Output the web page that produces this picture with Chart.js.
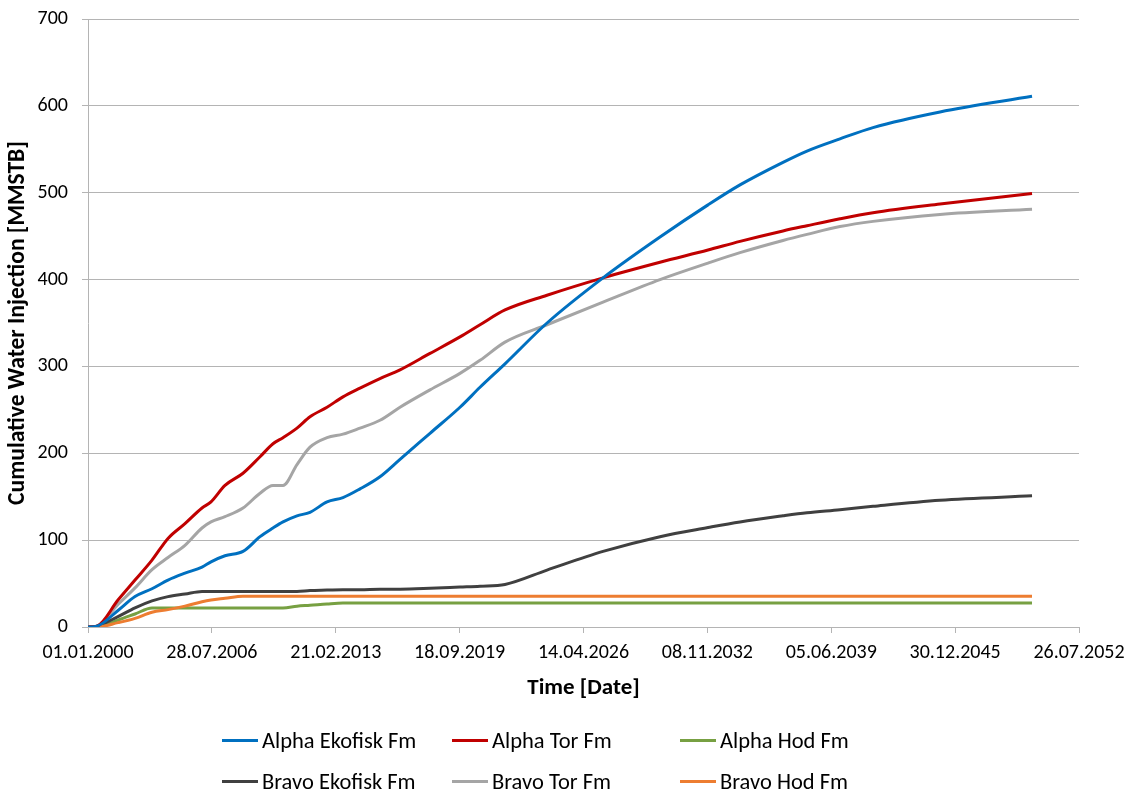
<!DOCTYPE html>
<html>
<head>
<meta charset="utf-8">
<title>Cumulative Water Injection</title>
<script src="https://cdn.jsdelivr.net/npm/chart.js@4.4.1/dist/chart.umd.min.js"></script>
<style>
  html, body { margin: 0; padding: 0; background: #fff; }
  #wrap { position: relative; width: 1134px; height: 794px; }
  #legend { position: absolute; left: 0; top: 0; width: 1134px; height: 794px; pointer-events: none;
            font-family: Carlito, Lato, sans-serif; font-size: 22.5px; color: #000; }
  .item { position: absolute; display: flex; align-items: center; white-space: nowrap; }
  .item span.swatch { display: inline-block; width: 36px; height: 3px; margin-right: 4px; }
</style>
</head>
<body>
<div id="wrap">
  <canvas id="chart" width="1134" height="794"></canvas>
  <div id="legend"></div>
</div>
<script>
// days after 01.01.2000
const days = [0, 174, 581, 911, 1240, 1550, 1879, 2209, 2383, 2654, 3003, 3333, 3584, 3778, 4049,
  4301, 4631, 4940, 5270, 5657, 6045, 6626, 7207, 7595, 8079, 8893, 9978, 11082, 12012, 12632,
  13465, 13930, 14569, 15209, 16507, 18290];

const alphaEkofisk = [0, 1, 19, 35, 44, 54, 62, 69, 75, 82, 87, 104, 114, 121, 128,
  132, 144, 149, 159, 173, 193, 223, 253, 276, 303, 350, 402, 449, 486, 509,
  535, 548, 562, 575, 593, 611];
const alphaTor = [0, 1, 31, 54, 77, 102, 119, 137, 144, 163, 177, 196, 211, 218, 229,
  242, 253, 265, 275, 286, 296, 315, 334, 348, 365, 382, 402, 420, 434, 444,
  456, 462, 470, 477, 487, 499];
const alphaHod = [0, 0, 8, 15, 22, 22, 22, 22, 22, 22, 22, 22, 22, 22, 24,
  25, 26.5, 27.5, 27.5, 27.5, 27.5, 27.5, 27.5, 27.5, 27.5, 27.5, 27.5, 27.5, 27.5, 27.5,
  27.5, 27.5, 27.5, 27.5, 27.5, 27.5];
const bravoEkofisk = [0, 1, 12, 22, 30, 35, 38, 41, 41, 41, 41, 41, 41, 41, 41,
  42, 42.5, 43, 43, 43.5, 43.5, 44.5, 46, 47, 49, 65.5, 87, 104, 114.5, 121,
  128, 131.5, 135, 139, 146, 151];
const bravoTor = [0, 1, 26, 45, 66, 80, 94, 114, 121, 127, 137, 154, 163, 163, 187,
  207, 218, 222, 229, 238, 253, 273, 292, 307, 328, 348, 374, 400, 419, 431,
  445, 452, 461, 467, 475, 481];
const bravoHod = [0, 0, 5, 10, 17, 20, 24, 29, 31, 33, 35.5, 35.5, 35.5, 35.5, 35.5,
  35.5, 35.5, 35.5, 35.5, 35.5, 35.5, 35.5, 35.5, 35.5, 35.5, 35.5, 35.5, 35.5, 35.5, 35.5,
  35.5, 35.5, 35.5, 35.5, 35.5, 35.5];

const seriesNames = ['Alpha Ekofisk Fm', 'Alpha Tor Fm', 'Alpha Hod Fm',
  'Bravo Ekofisk Fm', 'Bravo Tor Fm', 'Bravo Hod Fm'];
const seriesValues = [alphaEkofisk, alphaTor, alphaHod, bravoEkofisk, bravoTor, bravoHod];
const seriesColors = ['#0070C0', '#C00000', '#77A042', '#404040', '#A5A5A5', '#ED7D31'];

const tickLabels = ['01.01.2000', '28.07.2006', '21.02.2013', '18.09.2019', '14.04.2026',
  '08.11.2032', '05.06.2039', '30.12.2045', '26.07.2052'];
const yTicks = [0, 100, 200, 300, 400, 500, 600, 700];

const FONT = 'Carlito, Lato, sans-serif';
const GRID = '#B4B4B4';

const datasets = seriesNames.map((name, i) => ({
  label: name,
  data: days.map((d, j) => ({ x: d, y: seriesValues[i][j] })),
  borderColor: seriesColors[i],
  backgroundColor: seriesColors[i],
  borderWidth: 3,
  pointRadius: 0,
  cubicInterpolationMode: 'monotone',
  fill: false
}));
// draw order: hod lines at the back, ekofisk/tor on top
const drawOrder = [0, 1, 5, 3, 4, 2];
datasets.forEach((ds, i) => { ds.order = drawOrder[i]; });

new Chart(document.getElementById('chart'), {
  type: 'line',
  data: { datasets: datasets },
  options: {
    responsive: false,
    animation: false,
    layout: { padding: { left: 4, right: 55, top: 19, bottom: 92 } },
    plugins: {
      legend: { display: false },
      tooltip: { enabled: false }
    },
    scales: {
      x: {
        type: 'linear',
        min: 0,
        max: 19200,
        afterFit: (scale) => { scale.height = 75; },
        afterBuildTicks: (scale) => {
          scale.ticks = tickLabels.map((t, i) => ({ value: i * 2400 }));
        },
        grid: { drawOnChartArea: false, drawTicks: true, tickLength: 6, color: GRID },
        border: { color: GRID, width: 1 },
        ticks: {
          maxRotation: 0,
          autoSkip: false,
          padding: 8,
          color: '#000',
          font: { family: FONT, size: 20 },
          callback: (value, index) => tickLabels[index]
        },
        title: {
          display: true,
          text: 'Time [Date]',
          color: '#000',
          padding: 0,
          font: { family: FONT, size: 23, weight: 'bold' }
        }
      },
      y: {
        min: 0,
        max: 700,
        afterFit: (scale) => {
          scale.width = 84;
          // the layout padding already leaves room for the top label
          scale.paddingTop = 0;
          scale.paddingBottom = 0;
        },
        afterBuildTicks: (scale) => {
          scale.ticks = yTicks.map(v => ({ value: v }));
        },
        grid: { color: GRID, tickLength: 6 },
        border: { color: GRID, width: 1 },
        ticks: {
          padding: 14,
          color: '#000',
          font: { family: FONT, size: 20 }
        },
        title: {
          display: true,
          text: 'Cumulative Water Injection [MMSTB]',
          color: '#000',
          padding: 0,
          font: { family: FONT, size: 23.5, weight: 'bold' }
        }
      }
    }
  }
});

// legend: two rows of three entries below the plot
const legendCols = [222, 452, 680];
const legendRows = [740, 781];
const legendEl = document.getElementById('legend');
seriesNames.forEach((name, i) => {
  const item = document.createElement('div');
  item.className = 'item';
  item.style.left = legendCols[i % 3] + 'px';
  item.style.top = (legendRows[Math.floor(i / 3)] - 14) + 'px';
  item.style.height = '28px';
  const sw = document.createElement('span');
  sw.className = 'swatch';
  sw.style.background = seriesColors[i];
  item.appendChild(sw);
  item.appendChild(document.createTextNode(name));
  legendEl.appendChild(item);
});
</script>
</body>
</html>
